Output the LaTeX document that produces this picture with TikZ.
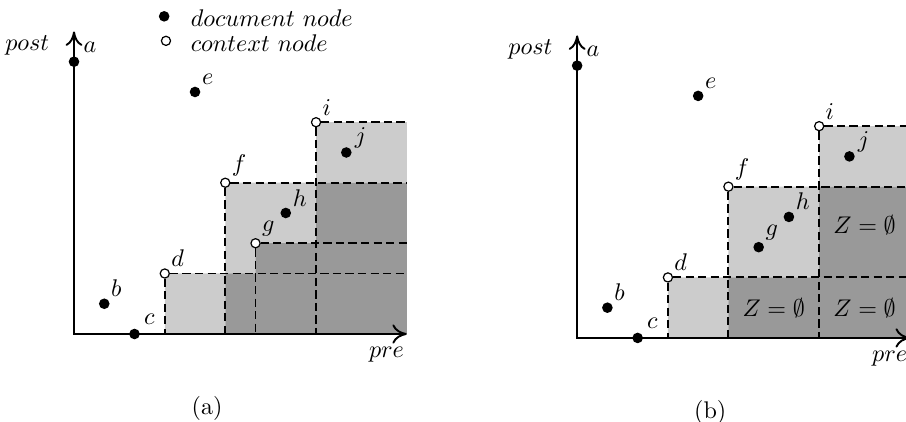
\documentclass[tikz,border=0pt]{standalone}
\usepackage{amsmath, amssymb}
\usepackage{tikz}
\usetikzlibrary{arrows.meta, backgrounds}
\definecolor{pale}{gray}{0.8}
\definecolor{deep}{gray}{0.6}

\begin{document}
\begin{tikzpicture}[x=0.4411cm, y=0.4411cm,
  doc/.style={circle, fill, inner sep=0pt, minimum size=4.4pt},
  ctx/.style={circle, draw, fill=white, line width=0.5pt, inner sep=0pt, minimum size=3.8pt},
  tag/.style={inner sep=1pt},
  far/.style={inner sep=1pt, label distance=1.5pt},
  key/.style={anchor=west},
  axes/.style={line width=0.8pt, {To[length=6pt, width=7pt]}-{To[length=6pt, width=8pt]}},
  dashline/.style={line width=0.8pt, dash pattern=on 3.4pt off 1.8pt}]
\useasboundingbox (-2.446,-2.876) rectangle (27.50,11.04);

\begin{scope}[name prefix=l-]
\coordinate (o) at (0,0);
\coordinate (xend) at (11,0);
\coordinate (yend) at (0,10);
\node[doc] (kd) at (2.98,10.5) {};
\node[key] (kdt) at (3.58,10.45) {$document\ node$};
\node[ctx] (kc) at (3.04,9.69) {};
\node[key] (kct) at (3.58,9.62) {$context\ node$};
\node[anchor=east] (post) at (-0.54,9.54) {$post$};
\node[anchor=north east, inner sep=1pt] (pre) at (11,-0.35) {$pre$};
\node[doc, label={[far]45:$a$}] (a) at (0,9) {};
\node[doc, label={[tag]45:$b$}] (b) at (1,1) {};
\node[doc, label={[far]45:$c$}] (c) at (2,0) {};
\node[ctx, label={[tag]45:$d$}] (d) at (3,2) {};
\node[doc, label={[tag]45:$e$}] (e) at (4,8) {};
\node[ctx, label={[tag]45:$f$}] (f) at (5,5) {};
\node[ctx, label={[tag]45:$g$}] (g) at (6,3) {};
\node[doc, label={[tag]45:$h$}] (h) at (7,4) {};
\node[ctx, label={[tag]45:$i$}] (i) at (8,7) {};
\node[doc, label={[tag]15:$j$}] (j) at (9,6) {};
\node (sub) at (4.4,-2.45) {(a)};
\begin{scope}[on background layer]
\fill[pale] (3,0) rectangle (5,2) (5,2) rectangle (8,5) (8,5) rectangle (11,7);
\fill[deep] (5,0) rectangle (11,2) (6,0) rectangle (11,3) (8,0) rectangle (11,5);
\draw[dashline] (d) -- (xend |- d);
\draw[dashline] (d) -- (d |- o);
\draw[dashline] (f) -- (xend |- f);
\draw[dashline] (f) -- (f |- o);
\draw[dashline] (g) -- (xend |- g);
\draw[dashline] (g) -- (g |- o);
\draw[dashline] (i) -- (xend |- i);
\draw[dashline] (i) -- (i |- o);
\draw[axes] (yend) -- (o) -- (xend);
\end{scope}
\end{scope}

\begin{scope}[shift={(16.63,-0.13)}, name prefix=r-]
\coordinate (o) at (0,0);
\coordinate (xend) at (11,0);
\coordinate (yend) at (0,10);
\node[anchor=east] (post) at (-0.54,9.54) {$post$};
\node[anchor=north east, inner sep=1pt] (pre) at (11,-0.35) {$pre$};
\node[doc, label={[far]45:$a$}] (a) at (0,9) {};
\node[doc, label={[tag]45:$b$}] (b) at (1,1) {};
\node[doc, label={[far]45:$c$}] (c) at (2,0) {};
\node[ctx, label={[tag]45:$d$}] (d) at (3,2) {};
\node[doc, label={[tag]45:$e$}] (e) at (4,8) {};
\node[ctx, label={[tag]45:$f$}] (f) at (5,5) {};
\node[doc, label={[tag]45:$g$}] (g) at (6,3) {};
\node[doc, label={[tag]45:$h$}] (h) at (7,4) {};
\node[ctx, label={[tag]45:$i$}] (i) at (8,7) {};
\node[doc, label={[tag]15:$j$}] (j) at (9,6) {};
\node (z1) at (6.5,1) {$Z=\emptyset$};
\node (z2) at (9.5,1) {$Z=\emptyset$};
\node (z3) at (9.5,3.72) {$Z=\emptyset$};
\node (sub) at (4.4,-2.45) {(b)};
\begin{scope}[on background layer]
\fill[pale] (3,0) rectangle (5,2) (5,2) rectangle (8,5) (8,5) rectangle (11,7);
\fill[deep] (5,0) rectangle (11,2) (8,0) rectangle (11,5);
\draw[dashline] (d) -- (xend |- d);
\draw[dashline] (d) -- (d |- o);
\draw[dashline] (f) -- (xend |- f);
\draw[dashline] (f) -- (f |- o);
\draw[dashline] (i) -- (xend |- i);
\draw[dashline] (i) -- (i |- o);
\draw[axes] (yend) -- (o) -- (xend);
\end{scope}
\end{scope}
\end{tikzpicture}
\end{document}
